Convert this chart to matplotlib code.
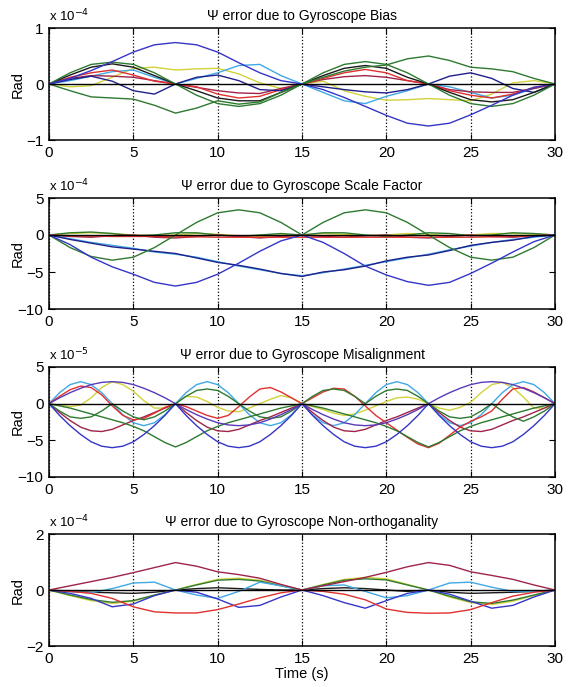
import numpy as np
import matplotlib
matplotlib.use("Agg")
import matplotlib.pyplot as plt

plt.rcParams['font.family'] = ['Liberation Sans', 'DejaVu Sans']

# time grids (s)
t_coarse = np.linspace(0, 30, 25)
t_fine = np.linspace(0, 30, 49)

# ---- panel 1: gyroscope bias (x 1e-4 rad)
p1_blue = [0, 0.1, 0.24, 0.4, 0.57, 0.7, 0.74, 0.7, 0.57, 0.38, 0.2, 0.06, 0,
           -0.1, -0.24, -0.4, -0.56, -0.7, -0.75, -0.7, -0.55, -0.38, -0.2, -0.06, 0]
p1_green_a = [0, -0.12, -0.23, -0.25, -0.27, -0.38, -0.52, -0.43, -0.3, -0.36, -0.32, -0.15, 0,
              0.12, 0.23, 0.3, 0.34, 0.45, 0.5, 0.42, 0.3, 0.27, 0.22, 0.1, 0]
p1_green_b = [0, 0.2, 0.35, 0.39, 0.35, 0.2, 0, -0.2, -0.35, -0.4, -0.35, -0.2, 0,
              0.2, 0.35, 0.4, 0.35, 0.2, 0, -0.2, -0.35, -0.4, -0.35, -0.2, 0]
p1_navy = [0, 0.08, 0.14, 0.05, -0.12, -0.18, 0, 0.12, 0.16, 0.06, -0.1, -0.12, 0,
           -0.05, -0.1, -0.14, -0.16, -0.1, 0, 0.14, 0.2, 0.1, -0.08, -0.15, 0]
p1_yellow = [0, -0.05, -0.03, 0.12, 0.28, 0.3, 0.25, 0.27, 0.28, 0.18, 0.02, -0.08, 0,
             0.05, -0.12, -0.22, -0.29, -0.28, -0.26, -0.28, -0.3, -0.18, 0.02, 0.06, 0]
p1_cyan = [0, 0.06, 0.14, 0.22, 0.25, 0.12, 0, 0.1, 0.2, 0.33, 0.35, 0.15, 0,
           -0.15, -0.3, -0.35, -0.22, -0.12, 0, -0.05, -0.15, -0.25, -0.2, -0.08, 0]
p1_red = [0, 0.12, 0.2, 0.25, 0.16, 0.05, 0, -0.05, -0.18, -0.25, -0.22, -0.1, 0,
          0.1, 0.2, 0.26, 0.2, 0.06, 0, -0.12, -0.2, -0.25, -0.18, -0.06, 0]
p1_maroon = [0, 0.1, 0.15, 0.14, 0.12, 0.06, 0, -0.06, -0.12, -0.16, -0.17, -0.08, 0,
             0.08, 0.13, 0.15, 0.12, 0.06, 0, -0.1, -0.14, -0.15, -0.15, -0.08, 0]
p1_black = [0, 0.16, 0.3, 0.36, 0.3, 0.15, 0, -0.12, -0.25, -0.3, -0.3, -0.15, 0,
            0.15, 0.28, 0.33, 0.28, 0.12, 0, -0.15, -0.28, -0.32, -0.28, -0.15, 0]

# ---- panel 2: gyroscope scale factor (x 1e-4 rad)
p2_green = [0, -1.7, -2.9, -3.4, -3.0, -1.7, 0, 1.7, 3.0, 3.4, 3.0, 1.7, 0,
            1.7, 3.0, 3.4, 3.0, 1.7, 0, -1.7, -3.0, -3.4, -3.0, -1.7, 0]
p2_blue = [0, -1.3, -3.0, -4.3, -5.3, -6.4, -6.9, -6.4, -5.3, -3.8, -2.2, -0.8, 0,
           -1.0, -2.5, -4.2, -5.4, -6.3, -6.8, -6.4, -5.2, -3.8, -2.3, -0.9, 0]
p2_cyan = [0, -0.5, -1.0, -1.4, -1.8, -2.3, -2.6, -3.0, -3.6, -4.2, -4.7, -5.2, -5.5,
           -5.1, -4.6, -4.1, -3.6, -3.1, -2.6, -2.0, -1.5, -1.0, -0.6, -0.3, 0]
p2_navy = [0, -0.6, -1.1, -1.6, -1.9, -2.2, -2.5, -3.1, -3.7, -4.1, -4.6, -5.2, -5.6,
           -5.0, -4.7, -4.2, -3.5, -3.0, -2.7, -2.1, -1.4, -1.0, -0.7, -0.2, 0]
p2_red = [0, -0.1, -0.15, -0.2, -0.2, -0.2, -0.25, -0.25, -0.3, -0.3, -0.3, -0.3, -0.3,
          -0.3, -0.3, -0.3, -0.3, -0.3, -0.3, -0.3, -0.3, -0.25, -0.2, -0.1, 0]
p2_yellow = [0, 0.2, 0.3, 0.2, 0, -0.1, 0, 0.2, 0.1, -0.1, -0.2, 0, 0,
             0.2, 0.1, -0.1, 0, 0.2, 0.1, -0.1, 0, 0.2, 0.2, 0.1, 0]
p2_green_s = [0, 0.3, 0.4, 0.2, -0.1, 0, 0.3, 0.3, 0, -0.2, 0, 0.2, 0,
              0.3, 0.3, 0, -0.2, 0, 0.3, 0.2, -0.1, 0, 0.3, 0.2, 0]
p2_maroon = [0, -0.2, -0.3, -0.1, 0, -0.3, -0.4, -0.2, 0, -0.2, -0.4, -0.2, 0,
             -0.2, -0.3, -0.1, 0, -0.3, -0.4, -0.2, 0, -0.2, -0.3, -0.1, 0]

# ---- panel 3: gyroscope misalignment (x 1e-5 rad), finer grid
p3_cyan = [0, 1.5, 2.6, 3.0, 2.6, 1.5, 0, -1.5, -2.6, -3.0, -2.6, -1.5, 0,
           1.5, 2.6, 3.0, 2.6, 1.5, 0, -1.5, -2.6, -3.0, -2.6, -1.5, 0,
           -1.5, -2.6, -3.0, -2.6, -1.5, 0, 1.5, 2.6, 3.0, 2.6, 1.5, 0,
           -1.5, -2.6, -3.0, -2.6, -1.5, 0, 1.5, 2.6, 3.0, 2.6, 1.5, 0]
p3_purple = [0, 0.8, 1.5, 2.1, 2.6, 2.9, 3.0, 2.9, 2.6, 2.1, 1.5, 0.8, 0,
             -0.8, -1.5, -2.1, -2.6, -2.9, -3.0, -2.9, -2.6, -2.1, -1.5, -0.8, 0,
             -0.8, -1.5, -2.1, -2.6, -2.9, -3.0, -2.9, -2.6, -2.1, -1.5, -0.8, 0,
             0.8, 1.5, 2.1, 2.6, 2.9, 3.0, 2.9, 2.6, 2.1, 1.5, 0.8, 0]
p3_blue = [0, -1.6, -3.0, -4.2, -5.2, -5.8, -6.0, -5.8, -5.2, -4.2, -3.0, -1.6, 0,
           -1.6, -3.0, -4.2, -5.2, -5.8, -6.0, -5.8, -5.2, -4.2, -3.0, -1.6, 0,
           -1.6, -3.0, -4.2, -5.2, -5.8, -6.0, -5.8, -5.2, -4.2, -3.0, -1.6, 0,
           -1.6, -3.0, -4.2, -5.2, -5.8, -6.0, -5.8, -5.2, -4.2, -3.0, -1.6, 0]
p3_green = [0, -0.3, -0.6, -1.0, -1.4, -1.8, -2.2, -2.6, -3.1, -3.7, -4.5, -5.3, -5.9,
            -5.3, -4.5, -3.7, -3.1, -2.6, -2.2, -1.8, -1.4, -1.0, -0.6, -0.3, 0,
            -0.3, -0.6, -1.0, -1.4, -1.8, -2.2, -2.6, -3.1, -3.7, -4.5, -5.3, -5.9,
            -5.3, -4.5, -3.7, -3.1, -2.6, -2.2, -1.8, -1.4, -1.0, -0.6, -0.3, 0]
p3_red = [0, 1.0, 1.9, 2.4, 2.2, 1.2, -0.3, -1.6, -2.2, -2.0, -1.3, -0.5, 0,
          -0.4, -1.0, -1.6, -2.0, -1.6, -0.4, 0.9, 2.0, 2.2, 1.6, 0.8, 0,
          0.8, 1.6, 2.1, 2.0, 1.0, -0.3, -1.6, -2.6, -3.6, -4.6, -5.5, -6.0,
          -5.4, -4.3, -3.2, -2.4, -1.8, -1.0, 0.6, 2.0, 2.2, 1.6, 0.8, 0]
p3_maroon = [0, -1.2, -2.3, -3.2, -3.7, -3.8, -3.5, -2.9, -2.3, -1.8, -1.2, -0.6, 0,
             -1.2, -2.3, -3.2, -3.7, -3.8, -3.5, -2.9, -2.3, -1.8, -1.2, -0.6, 0,
             -1.2, -2.3, -3.2, -3.7, -3.8, -3.5, -2.9, -2.3, -1.8, -1.2, -0.6, 0,
             -1.2, -2.3, -3.2, -3.7, -3.8, -3.5, -2.9, -2.3, -1.8, -1.2, -0.6, 0]
p3_yellow = [0, -0.2, -0.4, -0.2, 0.8, 2.2, 3.0, 2.6, 1.7, 0.4, -0.6, -0.6, 0,
             1.0, 0.9, 0.3, -0.5, -1.0, -1.1, -0.6, 0, 0.6, 1.1, 0.8, 0,
             -0.4, -0.8, -1.3, -1.6, -1.4, -0.9, -0.3, 0.3, 0.8, 0.9, 0.6, 0,
             -0.6, -0.9, -0.5, 0.2, 1.5, 2.6, 2.9, 2.2, 0.9, -0.6, -0.6, 0]
p3_green_s = [0, -1.0, -1.8, -2.0, -1.8, -1.0, 0, -1.0, -1.8, -2.2, -1.8, -1.0, 0,
              1.0, 1.8, 2.0, 1.8, 1.0, 0, -1.0, -1.8, -2.0, -1.8, -1.0, 0,
              1.0, 1.8, 2.0, 1.8, 1.0, 0, 1.0, 1.8, 2.0, 1.8, 1.0, 0,
              -1.0, -1.8, -2.0, -1.8, -1.0, 0, -1.0, -1.8, -2.4, -1.8, -1.0, 0]

# ---- panel 4: gyroscope non-orthogonality (x 1e-4 rad)
p4_magenta = [0, 0.15, 0.3, 0.45, 0.62, 0.8, 0.98, 0.85, 0.65, 0.55, 0.42, 0.2, 0,
              0.15, 0.3, 0.45, 0.63, 0.83, 0.98, 0.88, 0.65, 0.52, 0.38, 0.18, 0]
p4_red = [0, -0.05, -0.12, -0.3, -0.6, -0.78, -0.82, -0.82, -0.7, -0.5, -0.28, -0.1, 0,
          -0.05, -0.15, -0.35, -0.68, -0.8, -0.83, -0.82, -0.7, -0.45, -0.22, -0.08, 0]
p4_cyan = [0, -0.05, -0.1, 0.05, 0.25, 0.28, 0, -0.18, -0.3, -0.05, 0.28, 0.15, 0,
           0.15, 0.18, -0.05, -0.28, -0.2, 0, 0.25, 0.28, 0.1, -0.05, -0.05, 0]
p4_blue = [0, -0.12, -0.3, -0.6, -0.5, -0.2, 0, -0.08, -0.32, -0.62, -0.55, -0.25, 0,
           -0.2, -0.45, -0.65, -0.38, -0.12, 0, -0.15, -0.4, -0.65, -0.55, -0.25, 0]
p4_yellow = [0, -0.2, -0.38, -0.48, -0.4, -0.2, 0, 0.2, 0.38, 0.42, 0.35, 0.18, 0,
             0.2, 0.38, 0.45, 0.4, 0.2, 0, -0.25, -0.45, -0.52, -0.4, -0.2, 0]
p4_green = [0, -0.18, -0.34, -0.44, -0.38, -0.18, 0, 0.18, 0.35, 0.38, 0.32, 0.15, 0,
            0.18, 0.35, 0.4, 0.36, 0.18, 0, -0.22, -0.42, -0.48, -0.36, -0.18, 0]
p4_black = [0, -0.05, -0.08, -0.1, -0.12, -0.08, 0, 0.05, 0.08, 0.05, 0.02, 0, 0,
            0.05, 0.08, 0.05, 0, -0.05, 0, -0.08, -0.12, -0.1, -0.08, -0.05, 0]

titles = ["\u03a8 error due to Gyroscope Bias",
          "\u03a8 error due to Gyroscope Scale Factor",
          "\u03a8 error due to Gyroscope Misalignment",
          "\u03a8 error due to Gyroscope Non-orthoganality"]
exponents = [-4, -4, -5, -4]
ylims = [(-1, 1), (-10, 5), (-10, 5), (-2, 2)]
yticks = [[-1, 0, 1], [-10, -5, 0, 5], [-10, -5, 0, 5], [-2, 0, 2]]

BLUE = '#3535c8'
NAVY = '#20208a'
GREEN = '#2e7a30'
RED = '#e03030'
CYAN = '#40a8e6'
YELLOW = '#d2d23c'
MAROON = '#a02448'
PURPLE = '#5a3ab8'
BLACK = '#1a1a1a'

panels = [
    (t_coarse, [(p1_yellow, YELLOW), (p1_cyan, CYAN), (p1_maroon, MAROON), (p1_red, RED),
                (p1_navy, NAVY), (p1_black, BLACK), (p1_green_b, GREEN),
                (p1_green_a, GREEN), (p1_blue, BLUE)]),
    (t_coarse, [(p2_yellow, YELLOW), (p2_green_s, GREEN), (p2_maroon, MAROON), (p2_red, RED),
                (p2_cyan, CYAN), (p2_navy, NAVY), (p2_green, GREEN), (p2_blue, BLUE)]),
    (t_fine, [(p3_yellow, YELLOW), (p3_cyan, CYAN), (p3_maroon, MAROON), (p3_red, RED),
              (p3_green_s, GREEN), (p3_green, GREEN), (p3_purple, PURPLE), (p3_blue, BLUE)]),
    (t_coarse, [(p4_black, BLACK), (p4_yellow, YELLOW), (p4_green, GREEN), (p4_cyan, CYAN),
                (p4_blue, BLUE), (p4_red, RED), (p4_magenta, MAROON)]),
]

W, H = 573, 687
fig = plt.figure(figsize=(W / 100, H / 100), dpi=100)
boxes = [(28, 140), (198, 309), (367, 477), (534, 646)]
left, right = 49, 555

for i, (top, bot) in enumerate(boxes):
    ax = fig.add_axes([left / W, 1 - bot / H, (right - left) / W, (bot - top) / H])
    t, series = panels[i]
    for vals, col in series:
        ax.plot(t, vals, color=col, lw=1.0)
    ax.axhline(0, color='k', lw=1.0)
    ax.set_xlim(0, 30)
    ax.set_ylim(*ylims[i])
    ax.set_xticks([0, 5, 10, 15, 20, 25, 30])
    ax.set_yticks(yticks[i])
    ax.xaxis.grid(True, linestyle=':', color='k', lw=0.9)
    ax.tick_params(direction='in', top=True, right=True, labelsize=11,
                   length=4, width=0.8, pad=4)
    for sp in ax.spines.values():
        sp.set_linewidth(1.1)
    ax.set_title(titles[i], fontsize=10, pad=6)
    ax.text(0.0, 1.03, r'x 10$^{%d}$' % exponents[i], transform=ax.transAxes,
            ha='left', va='bottom', fontsize=9.5)
    fig.text(18 / W, 1 - (top + bot) / 2 / H, 'Rad', rotation=90,
             ha='center', va='center', fontsize=10.5)

fig.text((left + right) / 2 / W, 1 - 674 / H, 'Time (s)', ha='center', va='center',
         fontsize=10.5)

fig.savefig('out.png', dpi=100)
